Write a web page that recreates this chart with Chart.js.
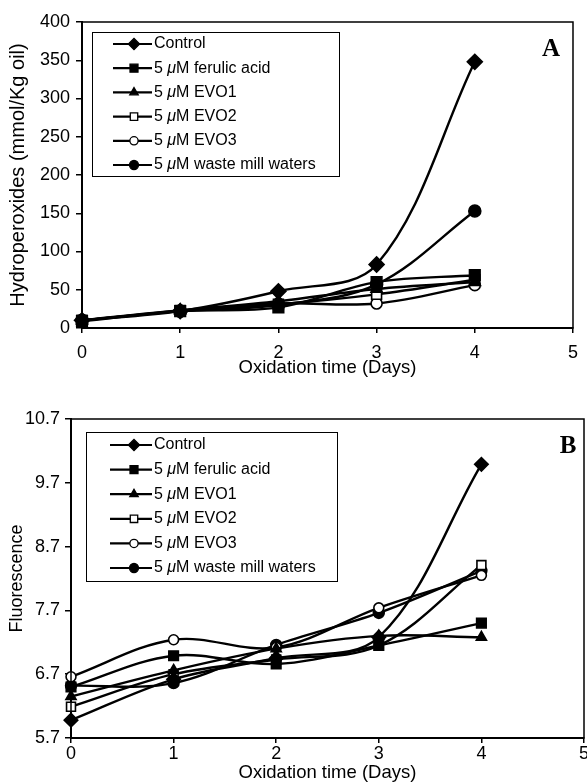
<!DOCTYPE html>
<html lang="en">
<head>
<meta charset="utf-8">
<title>Hydroperoxides and fluorescence</title>
<script src="https://cdn.jsdelivr.net/npm/chart.js@4.4.0/dist/chart.umd.min.js"></script>
<style>
    html, body { margin: 0; padding: 0; background: #fff; overflow: hidden; }
    body { width: 587px; height: 783px; position: relative; }
    #chartA { position: absolute; left: 0; top: 0; }
    #chartB { position: absolute; left: 0; top: 390px; }
</style>
</head>
<body>
<canvas id="chartA" width="587" height="390"></canvas>
<canvas id="chartB" width="600" height="393"></canvas>
<script>
const days = [0, 1, 2, 3, 4];
const seriesNames = ['Control', '5 μM ferulic acid', '5 μM EVO1', '5 μM EVO2', '5 μM EVO3', '5 μM waste mill waters'];

// panel A - hydroperoxides (mmol/Kg oil)
const controlA = [10, 22, 48, 83, 348];
const ferulicA = [9, 22, 27, 60, 69];
const evo1A = [10, 23, 35, 51, 60];
const evo2A = [10, 23, 31, 44, 63];
const evo3A = [10, 22, 32, 32, 56];
const wasteA = [10, 22, 30, 57, 153];
const yTicksA = [0, 50, 100, 150, 200, 250, 300, 350, 400];

// panel B - fluorescence
const controlB = [5.98, 6.62, 6.95, 7.28, 9.99];
const ferulicB = [6.5, 6.99, 6.86, 7.15, 7.5];
const evo1B = [6.35, 6.76, 7.1, 7.3, 7.28];
const evo2B = [6.19, 6.7, 6.93, 7.15, 8.41];
const evo3B = [6.66, 7.24, 7.12, 7.74, 8.25];
const wasteB = [6.52, 6.56, 7.16, 7.66, 8.32];
const yTicksB = [5.7, 6.7, 7.7, 8.7, 9.7, 10.7];
const xTicks = [0, 1, 2, 3, 4, 5];

const FONT = 'Liberation Sans';
const markers = [
    { style: 'rectRot', r: 7.5, fill: '#000' },
    { style: 'rect', r: 7.5, fill: '#000' },
    { style: 'triangle', r: 6.5, fill: '#000' },
    { style: 'rect', r: 7, fill: '#fff' },
    { style: 'circle', r: 5.5, fill: '#fff' },
    { style: 'circle', r: 6, fill: '#000' }
];

function makeDatasets(series, scale) {
    return series.map((vals, i) => ({
        label: seriesNames[i],
        data: days.map((d, j) => ({ x: d, y: vals[j] })),
        borderColor: '#000',
        borderWidth: 2.4,
        tension: 0.35,
        clip: false,
        pointStyle: markers[i].style,
        pointRadius: markers[i].r * scale,
        pointBackgroundColor: markers[i].fill,
        pointBorderColor: '#000',
        pointBorderWidth: 1.6
    }));
}

// box around plot, legend with line samples, panel letter
const frameLegend = {
    id: 'frameLegend',
    afterDraw(chart, args, o) {
        const ctx = chart.ctx;
        const a = chart.chartArea;
        ctx.save();
        ctx.strokeStyle = '#000';
        ctx.lineWidth = 1.5;
        ctx.strokeRect(a.left, a.top, a.right - a.left, a.bottom - a.top);

        const bx = a.left + o.dx, by = a.top + o.dy;
        ctx.lineWidth = 1;
        ctx.strokeRect(bx + 0.5, by + 0.5, o.w, o.h);

        chart.data.datasets.forEach((ds, i) => {
            const y = by + o.first + i * o.step;
            ctx.lineWidth = 2.2;
            ctx.strokeStyle = '#000';
            ctx.beginPath();
            ctx.moveTo(bx + o.lineFrom, y);
            ctx.lineTo(bx + o.lineTo, y);
            ctx.stroke();
            ctx.fillStyle = markers[i].fill;
            ctx.lineWidth = 1.3;
            Chart.helpers.drawPoint(ctx, {
                pointStyle: markers[i].style,
                radius: markers[i].r * 0.75,
                rotation: 0,
                borderWidth: 1.3
            }, bx + o.mark, y);

            // label, with italic mu
            ctx.fillStyle = '#000';
            ctx.textBaseline = 'middle';
            ctx.textAlign = 'left';
            let tx = bx + o.text;
            const parts = ds.label.split('μ');
            ctx.font = '16px "' + FONT + '"';
            ctx.fillText(parts[0], tx, y);
            tx += ctx.measureText(parts[0]).width;
            if (parts.length > 1) {
                ctx.font = 'italic 16px "' + FONT + '"';
                ctx.fillText('μ', tx, y);
                tx += ctx.measureText('μ').width;
                ctx.font = '16px "' + FONT + '"';
                ctx.fillText(parts[1], tx, y);
            }
        });

        ctx.font = 'bold 25px "Liberation Serif"';
        ctx.textAlign = 'center';
        ctx.textBaseline = 'middle';
        ctx.fillStyle = '#000';
        ctx.fillText(o.letter, a.right - o.letterDx, a.top + 28);
        ctx.restore();
    }
};

function makeOptions(c) {
    return {
        responsive: false,
        animation: false,
        layout: { padding: c.padding },
        plugins: {
            legend: { display: false },
            tooltip: { enabled: false },
            frameLegend: c.legend
        },
        scales: {
            x: {
                type: 'linear',
                min: 0,
                max: 5,
                afterBuildTicks: s => { s.ticks = xTicks.map(v => ({ value: v })); },
                afterFit: s => { s.height = c.xHeight; },
                ticks: { padding: c.xPad, color: '#000', font: { family: FONT, size: 18 } },
                grid: { drawOnChartArea: false, tickLength: 5, color: '#000', lineWidth: 1.5 },
                border: { color: '#000', width: 2 },
                title: {
                    display: true,
                    text: 'Oxidation time (Days)',
                    color: '#000',
                    font: { family: FONT, size: 18.5, lineHeight: 1.1 },
                    padding: { top: 0, bottom: c.xTitlePad }
                }
            },
            y: {
                min: c.yTicks[0],
                max: c.yTicks[c.yTicks.length - 1],
                afterBuildTicks: s => { s.ticks = c.yTicks.map(v => ({ value: v })); },
                afterFit: s => { s.width = c.yWidth; },
                ticks: {
                    padding: c.yPad,
                    color: '#000',
                    font: { family: FONT, size: 18 },
                    callback: v => c.decimals ? v.toFixed(c.decimals) : v
                },
                grid: { drawOnChartArea: false, tickLength: 6, color: '#000', lineWidth: 1.5 },
                border: { color: '#000', width: 2 },
                title: {
                    display: true,
                    text: c.yTitle,
                    color: '#000',
                    font: { family: FONT, size: c.yTitleSize, lineHeight: 1.1 },
                    padding: { top: 7, bottom: 0 }
                }
            }
        }
    };
}

new Chart(document.getElementById('chartA'), {
    type: 'line',
    data: { datasets: makeDatasets([controlA, ferulicA, evo1A, evo2A, evo3A, wasteA], 1) },
    options: makeOptions({
        padding: { top: 22, right: 10, left: 0, bottom: 0 },
        xHeight: 62, xPad: 9, xTitlePad: 12,
        yWidth: 82, yPad: 6,
        yTicks: yTicksA, decimals: 0,
        yTitle: 'Hydroperoxides (mmol/Kg oil)', yTitleSize: 20,
        legend: { dx: 10, dy: 10, w: 247, h: 144, first: 12, step: 24.2,
                  lineFrom: 21, lineTo: 60, mark: 42, text: 62, letter: 'A', letterDx: 22 }
    }),
    plugins: [frameLegend]
});

new Chart(document.getElementById('chartB'), {
    type: 'line',
    data: { datasets: makeDatasets([controlB, ferulicB, evo1B, evo2B, evo3B, wasteB], 0.9) },
    options: makeOptions({
        padding: { top: 29, right: 16, left: 0, bottom: 0 },
        xHeight: 45, xPad: 0, xTitlePad: 0,
        yWidth: 71, yPad: 5,
        yTicks: yTicksB, decimals: 1,
        yTitle: 'Fluorescence', yTitleSize: 18,
        legend: { dx: 15, dy: 13, w: 251, h: 149, first: 13, step: 24.6,
                  lineFrom: 24, lineTo: 66, mark: 48, text: 68, letter: 'B', letterDx: 16 }
    }),
    plugins: [frameLegend]
});
</script>
</body>
</html>
